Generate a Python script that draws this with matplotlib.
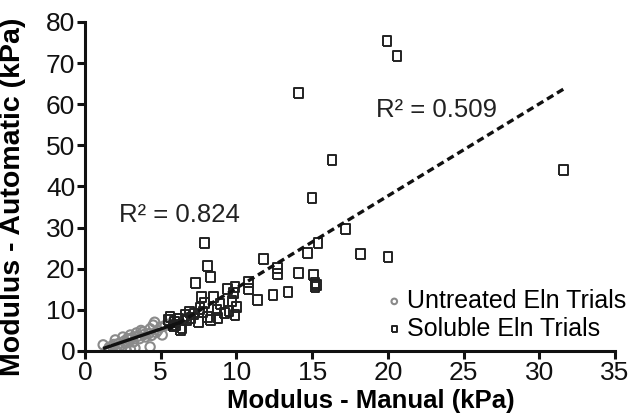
import matplotlib
matplotlib.use("Agg")
import matplotlib.pyplot as plt
import numpy as np

plt.rcParams['font.family'] = ['Liberation Sans', 'DejaVu Sans']

# Untreated Eln trials (manual, automatic) in kPa
untreated_x = [1.2, 1.5, 2.0, 2.4, 2.7, 3.0, 3.3, 4.3, 2.0, 2.5, 3.0, 3.4, 3.8, 4.3,
               4.5, 4.6, 5.1, 4.0, 3.2, 2.7, 1.8, 2.2, 2.9, 3.6, 3.9, 4.8, 5.0, 2.6,
               3.5, 4.2, 1.6, 2.3, 3.1, 4.7, 5.3, 5.6, 2.8, 3.7, 4.4, 1.9]
untreated_y = [1.5, 0.2, 0.3, 0.5, 0.2, 0.4, 0.7, 1.0, 2.7, 3.4, 3.9, 4.4, 4.6, 5.4,
               6.3, 7.0, 3.9, 3.4, 2.2, 1.9, 1.2, 1.8, 2.8, 3.0, 4.0, 5.0, 5.8, 2.4,
               3.6, 4.2, 0.9, 1.1, 3.2, 4.5, 6.2, 6.6, 3.0, 5.0, 3.8, 1.6]

# Soluble Eln trials
soluble_x = [19.95, 20.6, 14.1, 16.3, 31.6, 15.0, 17.2, 15.4, 7.9, 14.7, 18.2, 20.0,
             11.8, 8.1, 12.7, 8.3, 12.7, 14.1, 15.1, 15.2, 15.2, 10.8, 10.8, 11.4,
             12.4, 13.4, 9.8, 10.0, 9.9, 7.3, 7.7, 8.5, 9.4, 9.9, 9.7, 8.9, 8.7,
             7.9, 7.6, 6.9, 6.7, 6.4, 5.6, 5.9, 6.3, 8.1, 8.3, 7.2, 7.0, 5.5, 6.0,
             7.5, 8.8, 9.2, 9.5, 7.8, 6.6, 5.8, 6.2, 15.3]
soluble_y = [75.4, 71.8, 62.8, 46.5, 44.0, 37.2, 29.7, 26.3, 26.3, 23.8, 23.6, 22.9,
             22.4, 20.7, 20.2, 18.0, 18.7, 19.0, 18.5, 16.5, 15.6, 16.8, 15.1, 12.4,
             13.6, 14.4, 14.1, 10.7, 8.8, 16.5, 13.1, 13.1, 15.1, 15.6, 12.2, 11.4,
             10.0, 11.7, 10.3, 9.5, 7.5, 5.6, 8.3, 7.0, 5.1, 8.3, 7.5, 9.0, 8.0, 7.5,
             6.3, 7.0, 8.0, 9.2, 9.8, 9.5, 8.6, 6.0, 7.8, 16.0]

# linear trendlines (slope, intercept, x range)
untreated_fit = (1.25, -0.9, 1.3, 6.3)
soluble_fit = (2.24, -7.1, 5.5, 31.6)

fig = plt.figure(figsize=(6.31, 4.19), dpi=100)
ax = fig.add_axes([0.1347, 0.1623, 0.8399, 0.7852])

# slightly tall open square, like the original export
tall_square = [(-0.82, -1), (0.82, -1), (0.82, 1), (-0.82, 1), (-0.82, -1)]

ax.scatter(untreated_x, untreated_y, s=45, facecolors='none', edgecolors='#8a8a8a',
           linewidths=1.5, marker='o', label='Untreated Eln Trials', zorder=2)
ax.scatter(soluble_x, soluble_y, s=55, facecolors='none', edgecolors='#222222',
           linewidths=1.4, marker=tall_square, label='Soluble Eln Trials', zorder=3)

m, b, x0, x1 = untreated_fit
xs = np.array([x0, x1])
ax.plot(xs, m * xs + b, color='#111111', lw=2.4, zorder=4)
m, b, x0, x1 = soluble_fit
xs = np.array([x0, x1])
ax.plot(xs, m * xs + b, color='#111111', lw=2.4, ls=(0, (2.2, 1.3)), zorder=4)

ax.text(2.25, 31.4, 'R² = 0.824', fontsize=18.5, color='#222222')
ax.text(19.2, 56.9, 'R² = 0.509', fontsize=18.5, color='#222222')

ax.set_xlim(0, 35)
ax.set_ylim(0, 80)
ax.set_xticks(range(0, 36, 5))
ax.set_yticks(range(0, 81, 10))
ax.spines['top'].set_visible(False)
ax.spines['right'].set_visible(False)
for s in ['left', 'bottom']:
    ax.spines[s].set_linewidth(2.2)
    ax.spines[s].set_color('#111111')
ax.tick_params(axis='both', direction='out', length=6, width=2.2, labelsize=19,
               colors='#111111', pad=1)

ax.set_xlabel('Modulus - Manual (kPa)', fontsize=18.5, fontweight='bold')
ax.set_ylabel('Modulus - Automatic (kPa)', fontsize=20.5, fontweight='bold')
ax.xaxis.set_label_coords(0.54, -0.115, transform=ax.transAxes)
ax.xaxis.label.set_va('top')
ax.yaxis.set_label_coords(-0.112, 0.47, transform=ax.transAxes)

leg = ax.legend(loc='lower left', bbox_to_anchor=(19.6, 2.5), bbox_transform=ax.transData,
                frameon=False, fontsize=18, handletextpad=0.0, markerscale=0.6,
                borderaxespad=0, borderpad=0, labelspacing=0.15, handlelength=1.0)

fig.savefig('out.png', dpi=100)
